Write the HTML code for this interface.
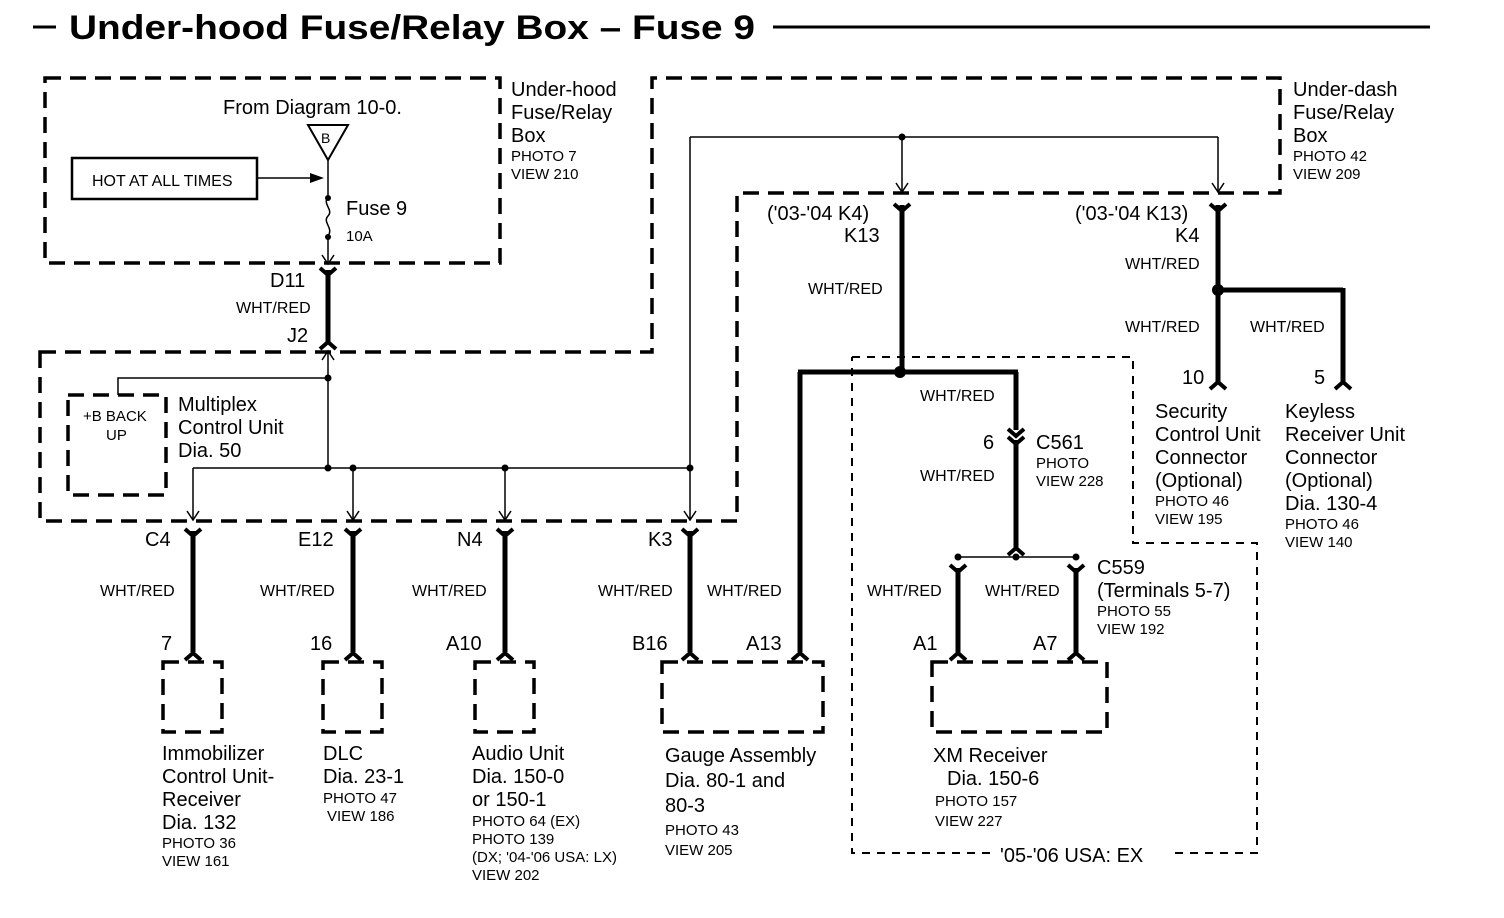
<!DOCTYPE html>
<html><head><meta charset="utf-8"><style>
html,body{margin:0;padding:0;background:#fff}
svg{display:block}
text{font-family:"Liberation Sans",Arial,sans-serif;fill:#000}
.l{font-size:20px}.s{font-size:15px}.w{font-size:16px}
</style></head><body>
<svg width="1504" height="918" viewBox="0 0 1504 918" xmlns="http://www.w3.org/2000/svg">
<defs>
<path id="ct" d="M-8,-6 L0,1 L8,-6" fill="none" stroke="#000" stroke-width="4"/>
<path id="cb" d="M-8,6 L0,-1 L8,6" fill="none" stroke="#000" stroke-width="4"/>
<path id="ar" d="M-6,-9 L0,0 L6,-9" fill="none" stroke="#000" stroke-width="1.5"/>
</defs>
<line x1="33" y1="27" x2="56" y2="27" stroke="#000" stroke-width="3"/>
<text x="69" y="39" textLength="686" lengthAdjust="spacingAndGlyphs" style="font-size:34px;font-weight:bold">Under-hood Fuse/Relay Box – Fuse 9</text>
<line x1="773" y1="27" x2="1430" y2="27" stroke="#000" stroke-width="3"/>

<g fill="none" stroke="#000" stroke-width="3.5" stroke-dasharray="16,9">
<rect x="45" y="78" width="455" height="185"/>
<path d="M40,352 L652,352 L652,78 L1280,78 L1280,193 L737,193 L737,521 L40,521 Z"/>
<rect x="68" y="395" width="98" height="100"/>
<rect x="163" y="662" width="59" height="70"/>
<rect x="323" y="662" width="59" height="70"/>
<rect x="475" y="662" width="59" height="70"/>
<rect x="662" y="662" width="161" height="70"/>
<rect x="932" y="662" width="175" height="70"/>
</g>
<path d="M852,357 L1133,357 L1133,543 L1257,543 L1257,853 L1170,853 M990,853 L852,853 L852,357" fill="none" stroke="#000" stroke-width="2" stroke-dasharray="8,7"/>

<text class="l" x="511" y="96">Under-hood</text>
<text class="l" x="511" y="119">Fuse/Relay</text>
<text class="l" x="511" y="142">Box</text>
<text class="s" x="511" y="161">PHOTO 7</text>
<text class="s" x="511" y="179">VIEW 210</text>
<text class="l" x="1293" y="96">Under-dash</text>
<text class="l" x="1293" y="119">Fuse/Relay</text>
<text class="l" x="1293" y="142">Box</text>
<text class="s" x="1293" y="161">PHOTO 42</text>
<text class="s" x="1293" y="179">VIEW 209</text>

<text class="l" x="223" y="114">From Diagram 10-0.</text>
<path d="M308,125 L348,125 L328,160 Z" fill="none" stroke="#000" stroke-width="2"/>
<text x="321" y="143" style="font-size:14px">B</text>
<rect x="72" y="158" width="185" height="41" fill="none" stroke="#000" stroke-width="2.5"/>
<text x="92" y="186" style="font-size:16px">HOT AT ALL TIMES</text>
<line x1="257" y1="178" x2="318" y2="178" stroke="#000" stroke-width="1.5"/>
<path d="M310,173 L324,178 L310,183 Z"/>
<path d="M328,160 L328,197 C322,204 334,210 328,216 C322,222 334,228 328,236 L328,264" fill="none" stroke="#000" stroke-width="1.5"/>
<circle cx="328" cy="198" r="3"/><circle cx="328" cy="237" r="3"/>
<use href="#ar" x="328" y="264"/>
<text class="l" x="346" y="215">Fuse 9</text>
<text class="s" x="346" y="241">10A</text>

<text class="l" x="270" y="287">D11</text>
<text class="w" x="236" y="313">WHT/RED</text>
<text class="l" x="287" y="342">J2</text>
<line x1="328" y1="270" x2="328" y2="344" stroke="#000" stroke-width="5"/>
<use href="#ct" x="328" y="274"/><use href="#cb" x="328" y="343"/>
<path d="M328,378 L328,351 M322,360 L328,351 L334,360" fill="none" stroke="#000" stroke-width="1.5"/>
<path d="M328,378 L118,378 L118,395" fill="none" stroke="#000" stroke-width="1.5"/>
<text x="83" y="421" style="font-size:15px">+B BACK</text>
<text x="106" y="440" style="font-size:15px">UP</text>
<text class="l" x="178" y="411">Multiplex</text>
<text class="l" x="178" y="434">Control Unit</text>
<text class="l" x="178" y="457">Dia.  50</text>
<g stroke="#000" stroke-width="1.5" fill="none">
<line x1="328" y1="378" x2="328" y2="468"/>
<line x1="193" y1="468" x2="690" y2="468"/>
<line x1="193" y1="468" x2="193" y2="519"/>
<line x1="353" y1="468" x2="353" y2="519"/>
<line x1="505" y1="468" x2="505" y2="519"/>
<line x1="690" y1="137" x2="690" y2="519"/>
<line x1="690" y1="137" x2="1218" y2="137"/>
<line x1="902" y1="137" x2="902" y2="191"/>
<line x1="1218" y1="137" x2="1218" y2="191"/>
</g>
<use href="#ar" x="193" y="520"/><use href="#ar" x="353" y="520"/><use href="#ar" x="505" y="520"/><use href="#ar" x="690" y="520"/>
<use href="#ar" x="902" y="192"/><use href="#ar" x="1218" y="192"/>
<circle cx="328" cy="378" r="3.5"/><circle cx="328" cy="468" r="3.5"/><circle cx="353" cy="468" r="3.5"/><circle cx="505" cy="468" r="3.5"/><circle cx="690" cy="468" r="3.5"/><circle cx="902" cy="137" r="3.5"/>

<g stroke="#000" stroke-width="5">
<line x1="193" y1="531" x2="193" y2="652"/>
<line x1="353" y1="531" x2="353" y2="652"/>
<line x1="505" y1="531" x2="505" y2="652"/>
<line x1="690" y1="531" x2="690" y2="652"/>
<line x1="800" y1="372" x2="800" y2="652"/>
<line x1="798" y1="372" x2="1018" y2="372"/>
<line x1="902" y1="205" x2="902" y2="372"/>
<line x1="1016" y1="372" x2="1016" y2="430"/>
<line x1="1016" y1="440" x2="1016" y2="548"/>
<line x1="958" y1="568" x2="958" y2="653"/>
<line x1="1076" y1="568" x2="1076" y2="653"/>
<line x1="1218" y1="205" x2="1218" y2="382"/>
<line x1="1218" y1="290" x2="1343" y2="290"/>
<line x1="1343" y1="288" x2="1343" y2="382"/>
</g>
<use href="#ct" x="193" y="535"/><use href="#ct" x="353" y="535"/><use href="#ct" x="505" y="535"/><use href="#ct" x="690" y="535"/>
<use href="#cb" x="193" y="654"/><use href="#cb" x="353" y="654"/><use href="#cb" x="505" y="654"/><use href="#cb" x="690" y="654"/><use href="#cb" x="800" y="654"/>
<use href="#ct" x="902" y="210"/><use href="#ct" x="1218" y="210"/>
<use href="#cb" x="1218" y="383"/><use href="#cb" x="1343" y="383"/>
<use href="#ct" x="1016" y="435"/><use href="#ct" x="1016" y="443"/>
<use href="#cb" x="1016" y="549"/>
<use href="#ct" x="958" y="571"/><use href="#ct" x="1076" y="571"/>
<use href="#cb" x="958" y="654"/><use href="#cb" x="1076" y="654"/>
<line x1="958" y1="557" x2="1076" y2="557" stroke="#000" stroke-width="1.5"/>
<circle cx="958" cy="557" r="3.5"/><circle cx="1016" cy="557" r="3.5"/><circle cx="1076" cy="557" r="3.5"/>
<circle cx="900" cy="372" r="6"/><circle cx="1218" cy="290" r="6"/>

<text class="l" x="145" y="546">C4</text>
<text class="l" x="298" y="546">E12</text>
<text class="l" x="457" y="546">N4</text>
<text class="l" x="648" y="546">K3</text>
<text class="w" x="100" y="596">WHT/RED</text>
<text class="w" x="260" y="596">WHT/RED</text>
<text class="w" x="412" y="596">WHT/RED</text>
<text class="w" x="598" y="596">WHT/RED</text>
<text class="w" x="707" y="596">WHT/RED</text>
<text class="l" x="161" y="650">7</text>
<text class="l" x="310" y="650">16</text>
<text class="l" x="446" y="650">A10</text>
<text class="l" x="632" y="650">B16</text>
<text class="l" x="746" y="650">A13</text>
<text class="l" x="913" y="650">A1</text>
<text class="l" x="1033" y="650">A7</text>

<text class="l" x="767" y="220">('03-'04 K4)</text>
<text class="l" x="844" y="242">K13</text>
<text class="l" x="1075" y="220">('03-'04 K13)</text>
<text class="l" x="1175" y="242">K4</text>
<text class="w" x="808" y="294">WHT/RED</text>
<text class="w" x="1125" y="269">WHT/RED</text>
<text class="w" x="1125" y="332">WHT/RED</text>
<text class="w" x="1250" y="332">WHT/RED</text>
<text class="w" x="920" y="401">WHT/RED</text>
<text class="w" x="920" y="481">WHT/RED</text>
<text class="w" x="867" y="596">WHT/RED</text>
<text class="w" x="985" y="596">WHT/RED</text>
<text class="l" x="983" y="449">6</text>
<text class="l" x="1036" y="449">C561</text>
<text class="s" x="1036" y="468">PHOTO</text>
<text class="s" x="1036" y="486">VIEW 228</text>
<text class="l" x="1097" y="574">C559</text>
<text class="l" x="1097" y="597">(Terminals 5-7)</text>
<text class="s" x="1097" y="616">PHOTO 55</text>
<text class="s" x="1097" y="634">VIEW 192</text>
<text class="l" x="1182" y="384">10</text>
<text class="l" x="1314" y="384">5</text>
<text class="l" x="1155" y="418">Security</text>
<text class="l" x="1155" y="441">Control Unit</text>
<text class="l" x="1155" y="464">Connector</text>
<text class="l" x="1155" y="487">(Optional)</text>
<text class="s" x="1155" y="506">PHOTO 46</text>
<text class="s" x="1155" y="524">VIEW 195</text>
<text class="l" x="1285" y="418">Keyless</text>
<text class="l" x="1285" y="441">Receiver Unit</text>
<text class="l" x="1285" y="464">Connector</text>
<text class="l" x="1285" y="487">(Optional)</text>
<text class="l" x="1285" y="510">Dia.  130-4</text>
<text class="s" x="1285" y="529">PHOTO 46</text>
<text class="s" x="1285" y="547">VIEW 140</text>

<text class="l" x="162" y="760">Immobilizer</text>
<text class="l" x="162" y="783">Control Unit-</text>
<text class="l" x="162" y="806">Receiver</text>
<text class="l" x="162" y="829">Dia. 132</text>
<text class="s" x="162" y="848">PHOTO 36</text>
<text class="s" x="162" y="866">VIEW 161</text>
<text class="l" x="323" y="760">DLC</text>
<text class="l" x="323" y="783">Dia.  23-1</text>
<text class="s" x="323" y="803">PHOTO 47</text>
<text class="s" x="327" y="821">VIEW 186</text>
<text class="l" x="472" y="760">Audio Unit</text>
<text class="l" x="472" y="783">Dia. 150-0</text>
<text class="l" x="472" y="806">or 150-1</text>
<text class="s" x="472" y="826">PHOTO 64 (EX)</text>
<text class="s" x="472" y="844">PHOTO 139</text>
<text class="s" x="472" y="862">(DX; '04-'06 USA: LX)</text>
<text class="s" x="472" y="880">VIEW 202</text>
<text class="l" x="665" y="762">Gauge Assembly</text>
<text class="l" x="665" y="787">Dia.  80-1 and</text>
<text class="l" x="665" y="812">80-3</text>
<text class="s" x="665" y="835">PHOTO 43</text>
<text class="s" x="665" y="855">VIEW 205</text>
<text class="l" x="933" y="762">XM Receiver</text>
<text class="l" x="947" y="785">Dia. 150-6</text>
<text class="s" x="935" y="806">PHOTO 157</text>
<text class="s" x="935" y="826">VIEW 227</text>
<text class="l" x="1000" y="862">'05-'06 USA: EX</text>
</svg>
</body></html>
